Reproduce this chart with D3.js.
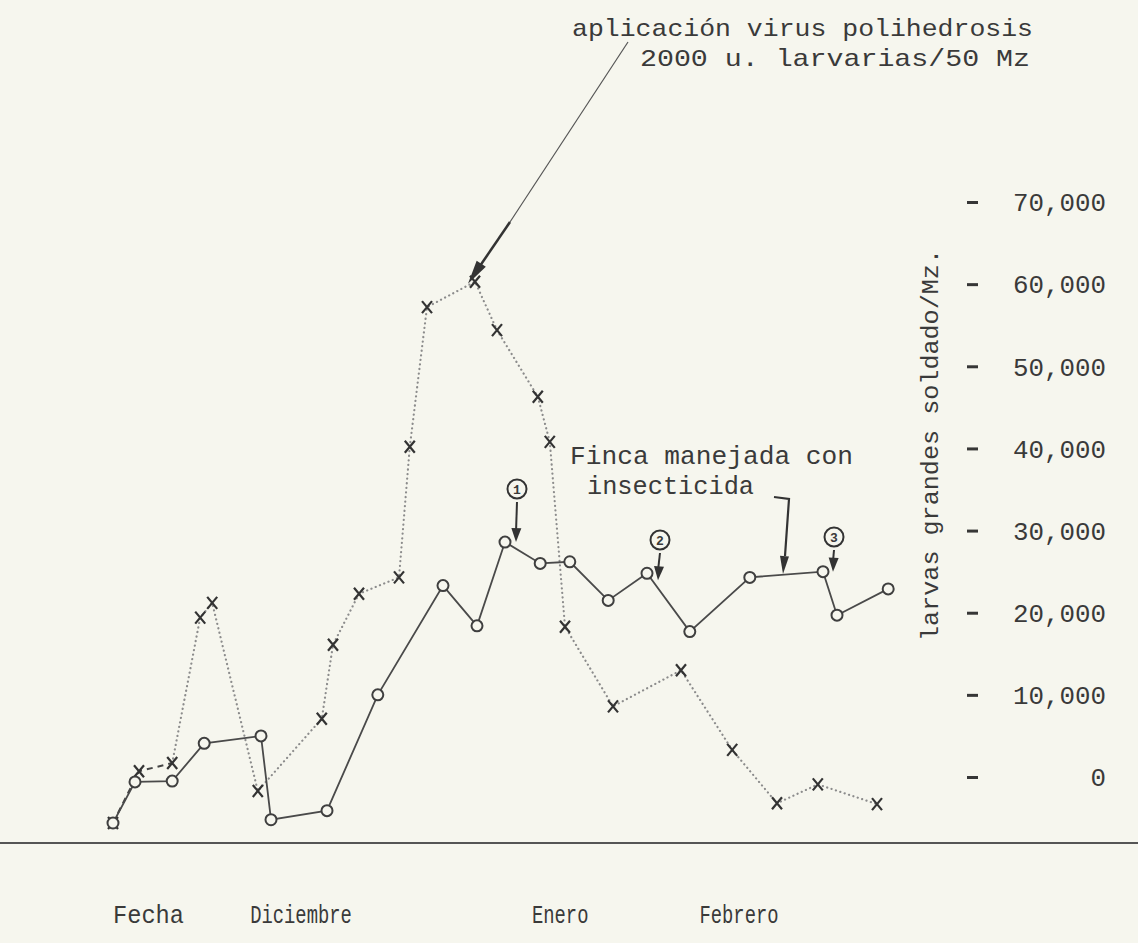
<!DOCTYPE html>
<html><head><meta charset="utf-8">
<script src="https://cdn.jsdelivr.net/npm/d3@7"></script>
<style>
html,body{margin:0;padding:0;background:#f6f6ee;}
svg{display:block;}
text{font-family:"Liberation Mono","DejaVu Sans Mono",monospace;fill:#3a3a3a;}
</style></head><body>
<svg id="chart" width="1138" height="943"></svg>
<script>
// Finca con aplicación de virus (línea punteada, marcas x)
const virusDays   = [0, 3.25, 7.4, 10.9, 12.4, 18.1, 26.1, 27.5, 30.75, 35.75, 37.1, 39.25, 45.25, 48, 53.1, 54.6, 56.5, 62.5, 71, 77.4, 83, 88.1, 95.5];
const virusValues = [-5600, 700, 1700, 19400, 21200, -1700, 7100, 16100, 22300, 24300, 40200, 57200, 60300, 54400, 46300, 40800, 18300, 8600, 13000, 3300, -3200, -900, -3300];
// Finca manejada con insecticida (línea continua, círculos)
const insectDays   = [0, 2.75, 7.4, 11.4, 18.5, 19.75, 26.75, 33.1, 41.25, 45.5, 49, 53.4, 57.1, 61.9, 66.75, 72.1, 79.6, 88.75, 90.5, 96.9];
const insectValues = [-5600, -600, -500, 4100, 5000, -5200, -4100, 10000, 23300, 18400, 28600, 26000, 26200, 21500, 24800, 17700, 24300, 25000, 19700, 22900];
// Ejes
const yTicks = [0, 10000, 20000, 30000, 40000, 50000, 60000, 70000];
const monthLabels = ["Diciembre", "Enero", "Febrero"];
const monthDays = [23.5, 55.9, 78.25];
// Aplicaciones de insecticida (índice del punto señalado)
const sprayLabels = ["1", "2", "3"];
const sprayIndex = [10, 14, 17];

const svg = d3.select("#chart");
const W = 1138, H = 943;
svg.append("rect").attr("width", W).attr("height", H).attr("fill", "#f6f6ee");

const x = d3.scaleLinear().domain([0, 100]).range([113, 913]);
const y = d3.scaleLinear().domain([0, 70000]).range([777, 202]);

const ink = "#363636";

function arrowHead(g, x1, y1, x2, y2, len, hw, color) {
  const dx = x2 - x1, dy = y2 - y1, L = Math.hypot(dx, dy);
  const ux = dx / L, uy = dy / L;
  const bx = x2 - ux * len, by = y2 - uy * len;
  const px = -uy * hw, py = ux * hw;
  g.append("path")
    .attr("d", `M${x2},${y2}L${bx + px},${by + py}L${bx - px},${by - py}Z`)
    .attr("fill", color);
}

// baseline
svg.append("line").attr("x1", 0).attr("x2", W).attr("y1", 843).attr("y2", 843)
  .attr("stroke", "#555").attr("stroke-width", 2.2);

// y axis (right)
const yAxis = d3.axisRight(y).tickValues(yTicks).tickSize(11).tickFormat(d3.format(","));
const ax = svg.append("g").attr("transform", "translate(967,0)").call(yAxis);
ax.select(".domain").remove();
ax.selectAll(".tick line").attr("stroke", ink).attr("stroke-width", 3);
ax.selectAll(".tick text")
  .attr("x", 139).attr("text-anchor", "end").attr("dy", "0.35em")
  .style("font-family", '"Liberation Mono", monospace')
  .attr("font-size", 25).attr("fill", ink)
  .each(function(d) { const n = d3.format(",")(d).length; d3.select(this).attr("textLength", n * 15.5).attr("lengthAdjust", "spacingAndGlyphs"); });

// axis title
svg.append("text")
  .attr("transform", "translate(938,445) rotate(-90)")
  .attr("text-anchor", "middle")
  .attr("font-size", 24).attr("fill", ink)
  .attr("textLength", 392).attr("lengthAdjust", "spacingAndGlyphs")
  .text("larvas grandes soldado/Mz.");

// bottom labels
svg.append("text").attr("x", 113).attr("y", 923).attr("font-size", 25).attr("fill", ink)
  .attr("textLength", 71).attr("lengthAdjust", "spacingAndGlyphs").text("Fecha");
svg.selectAll("text.month").data(monthLabels).join("text")
  .attr("class", "month")
  .attr("x", (d, i) => x(monthDays[i]))
  .attr("y", 923).attr("text-anchor", "middle").attr("font-size", 25).attr("fill", ink)
  .attr("textLength", d => d.length * 11.3).attr("lengthAdjust", "spacingAndGlyphs")
  .text(d => d);

// series points
const line = d3.line();
const vPts = virusDays.map((d, i) => [x(d), y(virusValues[i])]);
const iPts = insectDays.map((d, i) => [x(d), y(insectValues[i])]);

// virus series: dotted line
svg.append("path").attr("d", line(vPts.slice(2)))
  .attr("fill", "none").attr("stroke", "#8c8c8c").attr("stroke-width", 2.2)
  .attr("stroke-dasharray", "0.1,4.5").attr("stroke-linecap", "round");
svg.append("path").attr("d", line(vPts.slice(0, 3)))
  .attr("fill", "none").attr("stroke", "#444").attr("stroke-width", 2)
  .attr("stroke-dasharray", "6,5");

// insecticide series: solid line
svg.append("path").attr("d", line(iPts))
  .attr("fill", "none").attr("stroke", "#4a4a4a").attr("stroke-width", 1.8);

// x markers
svg.selectAll("path.xm").data(vPts).join("path")
  .attr("class", "xm")
  .attr("transform", d => `translate(${d[0]},${d[1]})`)
  .attr("d", "M-5,-6L5,6M5,-6L-5,6")
  .attr("stroke", "#333").attr("stroke-width", 2.2).attr("fill", "none");

// circle markers
svg.selectAll("circle.cm").data(iPts).join("circle")
  .attr("class", "cm")
  .attr("cx", d => d[0]).attr("cy", d => d[1]).attr("r", 5.5)
  .attr("fill", "#f6f6ee").attr("stroke", "#3f3f3f").attr("stroke-width", 2);

// top annotation
svg.append("text").attr("x", 572).attr("y", 36).attr("font-size", 24).attr("fill", ink)
  .attr("textLength", 461).attr("lengthAdjust", "spacingAndGlyphs")
  .text("aplicación virus polihedrosis");
svg.append("text").attr("x", 640).attr("y", 66).attr("font-size", 24).attr("fill", ink)
  .attr("textLength", 390).attr("lengthAdjust", "spacingAndGlyphs")
  .text("2000 u. larvarias/50 Mz");
const peak = vPts[12];
const ann = svg.append("g");
const tx = peak[0] - 7, ty = peak[1] + 2;
ann.append("line").attr("x1", 628).attr("y1", 42).attr("x2", 510).attr("y2", 222)
  .attr("stroke", "#555").attr("stroke-width", 1.2);
ann.append("line").attr("x1", 510).attr("y1", 222).attr("x2", tx + 6).attr("y2", ty - 9)
  .attr("stroke", "#333").attr("stroke-width", 2.5);
arrowHead(ann, 628, 42, tx, ty, 24, 5.5, "#333");

// Finca manejada annotation
svg.append("text").attr("x", 570).attr("y", 464).attr("font-size", 25).attr("fill", ink)
  .attr("textLength", 283).attr("lengthAdjust", "spacingAndGlyphs")
  .text("Finca manejada con");
svg.append("text").attr("x", 587).attr("y", 494).attr("font-size", 25).attr("fill", ink)
  .attr("textLength", 167).attr("lengthAdjust", "spacingAndGlyphs")
  .text("insecticida");
const hook = svg.append("g");
hook.append("path").attr("d", "M774,497 L789,499 L785,556")
  .attr("fill", "none").attr("stroke", "#333").attr("stroke-width", 2.2);
arrowHead(hook, 785, 550, 783, 574, 18, 4.5, "#333");

// circled spray numbers with arrows
const sprayPos = [[517, 489], [660, 540], [834, 537]];
const sprayG = svg.append("g");
sprayIndex.forEach((pi, k) => {
  const [cx, cy] = sprayPos[k];
  const pt = iPts[pi];
  sprayG.append("circle").attr("cx", cx).attr("cy", cy).attr("r", 9.5)
    .attr("fill", "none").attr("stroke", "#333").attr("stroke-width", 2);
  sprayG.append("text").attr("x", cx).attr("y", cy).attr("dy", "0.36em")
    .attr("text-anchor", "middle").attr("font-size", 13).attr("font-weight", "bold")
    .text(sprayLabels[k]);
  const tipY = pt[1] - 4 + (k === 1 ? 11 : 4);
  const ex = k === 0 ? cx - 1 : cx - 2 + (k === 2 ? 1 : 0);
  sprayG.append("line").attr("x1", cx).attr("y1", cy + 13).attr("x2", ex).attr("y2", tipY - 10)
    .attr("stroke", "#333").attr("stroke-width", 2);
  arrowHead(sprayG, cx, cy + 13, ex, tipY, 14, 5, "#333");
});
</script>
</body></html>
